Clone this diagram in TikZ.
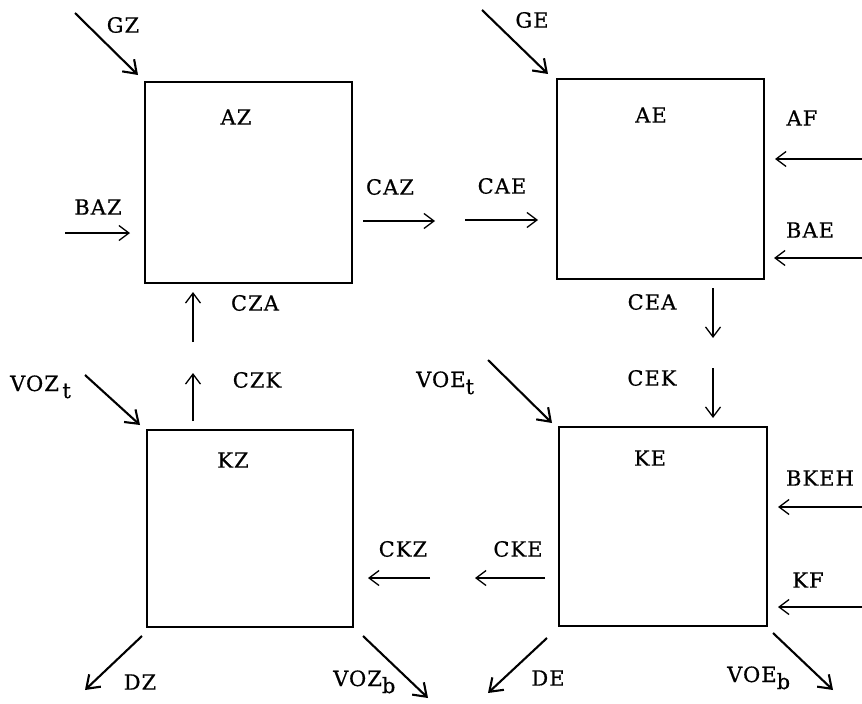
\documentclass[tikz,border=0pt]{standalone}
\usepackage{fontspec}
\setmainfont{DejaVu Serif}[FakeBold=0.6,LetterSpace=5]
\usetikzlibrary{arrows.meta,calc}

\begin{document}
\begin{tikzpicture}[x=1pt,y=-1pt,
  box/.style={draw,line width=1.8pt,inner sep=0pt,outer sep=0pt},
  lbl/.style={inner sep=0pt,font=\fontsize{21}{24}\selectfont},
  thin/.style={line width=1.3pt,-{Straight Barb[length=10pt,width=15pt]}},
  thick/.style={line width=2.1pt,-{Straight Barb[length=12pt,width=17pt]}}]
\useasboundingbox (0,0) rectangle (862,704);

% compartments
\node[box,minimum width=207pt,minimum height=201pt] (az) at (248.5,182.5) {};
\node[box,minimum width=207pt,minimum height=200pt] (ae) at (660.5,179) {};
\node[box,minimum width=206pt,minimum height=197pt] (kz) at (250,528.5) {};
\node[box,minimum width=208pt,minimum height=199pt] (ke) at (663,526.5) {};

\node[lbl] (azt) at (236,117) {AZ};
\node[lbl] (aet) at (651,115) {AE};
\node[lbl] (kzt) at (233,460) {KZ};
\node[lbl] (ket) at (650,458) {KE};

% flows of AZ
\draw[thick] ($(az.north west)+(-70,-69)$) -- ($(az.north west)+(-7,-7)$);
\node[lbl] (gz) at (123,25) {GZ};
\draw[thin] ($(az.south west)+(-80,-50)$) -- ($(az.south west)+(-15,-50)$);
\node[lbl] (baz) at (98,207) {BAZ};
\draw[thin] ($(az.south east)+(11,-62)$) -- ($(az.south east)+(83,-62)$);
\node[lbl] (caz) at (390,187) {CAZ};
\draw[thin] ($(az.south west)+(48,59)$) -- ($(az.south west)+(48,9)$);
\node[lbl] (cza) at (255,303) {CZA};

% flows of AE
\draw[thick] ($(ae.north west)+(-75,-69)$) -- ($(ae.north west)+(-9,-5)$);
\node[lbl] (ge) at (532,20) {GE};
\draw[thin] ($(ae.south west)+(-92,-59)$) -- ($(ae.south west)+(-19,-59)$);
\node[lbl] (cae) at (502,186) {CAE};
\draw[thin] ($(ae.north east)+(98,80)$) -- ($(ae.north east)+(11,80)$);
\node[lbl] (af) at (802,118) {AF};
\draw[thin] ($(ae.south east)+(98,-21)$) -- ($(ae.south east)+(10,-21)$);
\node[lbl] (bae) at (810,230) {BAE};
\draw[thin] ($(ae.south west)+(156,9)$) -- ($(ae.south west)+(156,59)$);
\node[lbl] (cea) at (652,302) {CEA};

% flows of KZ
\draw[thin] ($(kz.north west)+(46,-9)$) -- ($(kz.north west)+(46,-57)$);
\node[lbl] (czk) at (257,380) {CZK};
\draw[thick] ($(kz.north west)+(-62,-55)$) -- ($(kz.north west)+(-7,-5)$);
\node[lbl,anchor=base west] (vozt) at (10,391) {VOZ\,\raisebox{-7pt}{t}};
\draw[thin] ($(kz.south east)+(77,-49)$) -- ($(kz.south east)+(15,-49)$);
\node[lbl] (ckz) at (403,549) {CKZ};
\draw[thick] ($(kz.south west)+(-5,9)$) -- ($(kz.south west)+(-62,63)$);
\node[lbl] (dz) at (140,682) {DZ};
\draw[thick] ($(kz.south east)+(10,9)$) -- ($(kz.south east)+(75,71)$);
\node[lbl,anchor=base west] (vozb) at (333,686) {VOZ\raisebox{-7pt}{b}};

% flows of KE
\draw[thin] ($(ke.north west)+(154,-59)$) -- ($(ke.north west)+(154,-9)$);
\node[lbl] (cek) at (652,378) {CEK};
\draw[thick] ($(ke.north west)+(-71,-67)$) -- ($(ke.north west)+(-7,-4)$);
\node[lbl,anchor=base west] (voet) at (416,387) {VOE\raisebox{-7pt}{t}};
\draw[thin] ($(ke.north east)+(95,80)$) -- ($(ke.north east)+(11,80)$);
\node[lbl] (bkeh) at (820,478) {BKEH};
\draw[thin] ($(ke.south east)+(95,-19)$) -- ($(ke.south east)+(11,-19)$);
\node[lbl] (kf) at (808,580) {KF};
\draw[thin] ($(ke.south west)+(-14,-48)$) -- ($(ke.south west)+(-84,-48)$);
\node[lbl] (cke) at (518,549) {CKE};
\draw[thick] ($(ke.south west)+(-12,12)$) -- ($(ke.south west)+(-71,67)$);
\node[lbl] (de) at (548,678) {DE};
\draw[thick] ($(ke.south east)+(6,7)$) -- ($(ke.south east)+(66,64)$);
\node[lbl,anchor=base west] (voeb) at (727,682) {VOE\raisebox{-7pt}{b}};
\end{tikzpicture}
\end{document}
